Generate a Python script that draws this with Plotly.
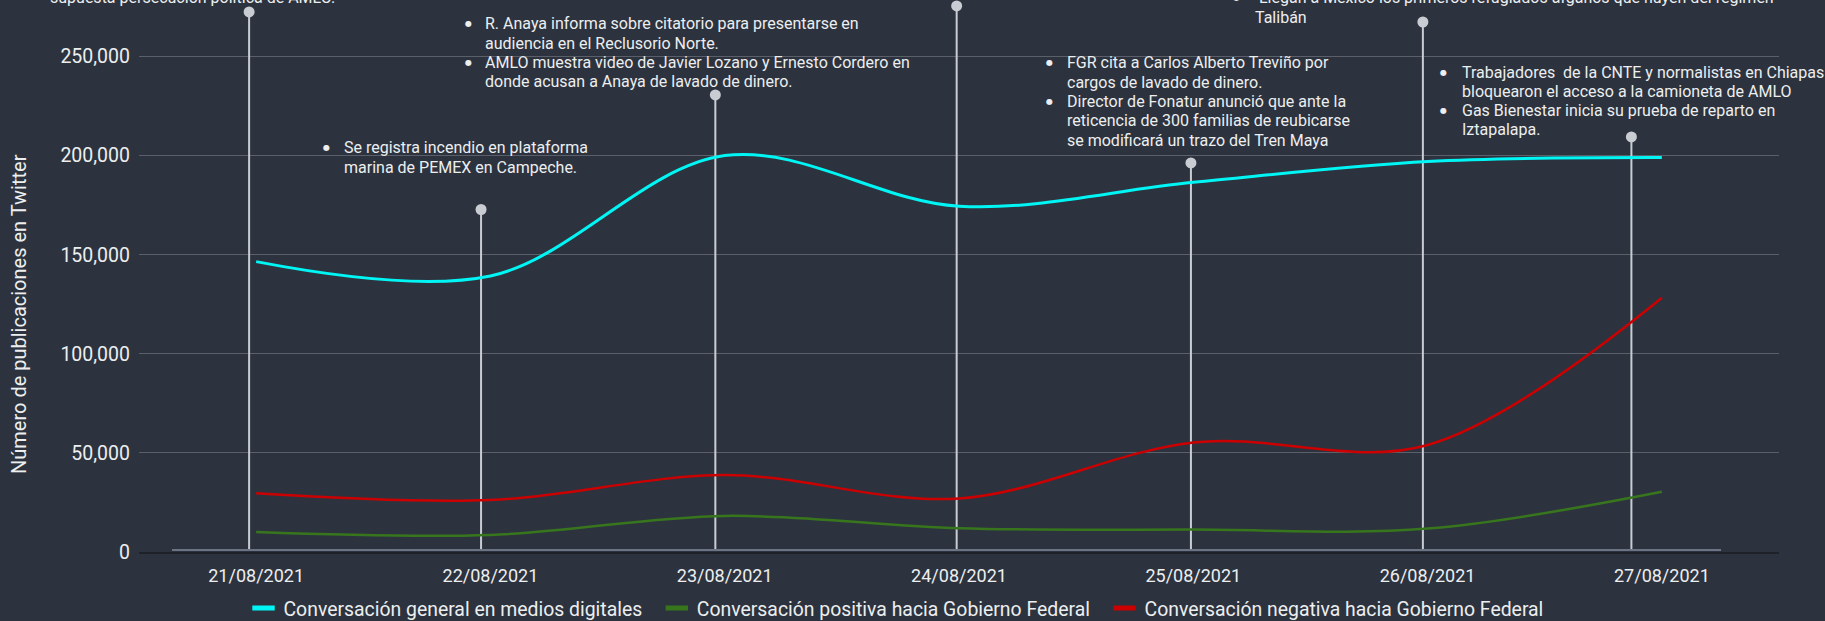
import plotly.graph_objects as go

# ---------------- data ----------------
fechas = ["21/08/2021", "22/08/2021", "23/08/2021", "24/08/2021",
          "25/08/2021", "26/08/2021", "27/08/2021"]
dias = list(range(len(fechas)))
general = [146500, 139300, 200000, 174500, 186500, 197000, 199000]
positiva = [10100, 8600, 18200, 12000, 11300, 11800, 30400]
negativa = [29600, 26200, 38800, 27000, 55300, 54000, 128300]
# event markers: position along the day axis and height of the marker
posicion_eventos = [-0.03, 0.96, 1.96, 2.99, 3.99, 4.98, 5.87]
altura_eventos = [272500, 172800, 230600, 275500, 196300, 267400, 209400]

series_nombres = ["Conversación general en medios digitales",
                  "Conversación positiva hacia Gobierno Federal",
                  "Conversación negativa hacia Gobierno Federal"]
y_ticks = [0, 50000, 100000, 150000, 200000, 250000]

# ---------------- style ----------------
BG = "#2c333e"
GRID = "#5a5f69"
TXT = "#eceef0"
CYAN = "#00f5f5"
GREEN = "#38761d"
RED = "#cc0000"
LOLLI = "#c9ccd3"
FONT = "Roboto"

W, H = 1825, 621
L, R_, T, B = 139, 1779, 0, 552
PX_PER_50K = 99.1


def px(x):
    return (x - L) / (R_ - L)


def py(y):
    return (B - y) / (B - T)


fig = go.Figure()

# lollipop event markers
lx, ly = [], []
for d, h in zip(posicion_eventos, altura_eventos):
    lx += [d, d, None]
    ly += [1500, h, None]
fig.add_trace(go.Scatter(x=lx, y=ly, mode="lines",
                         line=dict(color=LOLLI, width=2),
                         showlegend=False, hoverinfo="skip"))
fig.add_trace(go.Scatter(x=posicion_eventos, y=altura_eventos, mode="markers",
                         marker=dict(color=LOLLI, size=11),
                         showlegend=False, hoverinfo="skip"))

# series lines
for vals, col, w in [(general, CYAN, 3), (positiva, GREEN, 2.5), (negativa, RED, 2.5)]:
    fig.add_trace(go.Scatter(x=dias, y=vals, mode="lines",
                             line=dict(color=col, width=w, shape="spline", smoothing=1),
                             showlegend=False))

# legend entries (rectangular swatches)
for k, (name, col) in enumerate(zip(series_nombres, [CYAN, GREEN, RED])):
    label = name + ("\u00a0\u00a0" if k < 2 else "")
    fig.add_trace(go.Scatter(x=[None], y=[None], mode="markers", name=label,
                             marker=dict(symbol="line-ew", size=20,
                                         line=dict(color=col, width=7))))

# ---------------- event text blocks ----------------
LH = 19.3
bloques = [
    dict(tx=48, bx=None, y0=-3, bullets=[],
         lines=["supuesta persecución política de AMLO."]),
    dict(tx=342, bx=326, y0=148, bullets=[0],
         lines=["Se registra incendio en plataforma",
                "marina de PEMEX en Campeche."]),
    dict(tx=483, bx=468, y0=24, bullets=[0, 2],
         lines=["R. Anaya informa sobre citatorio para presentarse en",
                "audiencia en el Reclusorio Norte.",
                "AMLO muestra video de Javier Lozano y Ernesto Cordero en",
                "donde acusan a Anaya de lavado de dinero."]),
    dict(tx=1065, bx=1049, y0=63, bullets=[0, 2],
         lines=["FGR cita a Carlos Alberto Treviño por",
                "cargos de lavado de dinero.",
                "Director de Fonatur anunció que ante la",
                "reticencia de 300 familias de reubicarse",
                "se modificará un trazo del Tren Maya"]),
    dict(tx=1253, bx=1236, y0=-2, bullets=[0],
         lines=["\u00a0Llegan a México los primeros refugiados afganos que huyen del régimen",
                "Talibán"]),
    dict(tx=1460, bx=1443, y0=72, bullets=[0, 2],
         lines=["Trabajadores\u00a0 de la CNTE y normalistas en Chiapas",
                "bloquearon el acceso a la camioneta de AMLO",
                "Gas Bienestar inicia su prueba de reparto en",
                "Iztapalapa."]),
]

anns = []
for b in bloques:
    for i, line in enumerate(b["lines"]):
        yc = b["y0"] + i * LH
        anns.append(dict(x=px(b["tx"]), y=py(yc), xref="paper", yref="paper",
                         text=line, showarrow=False, xanchor="left", yanchor="middle",
                         font=dict(family=FONT, size=16, color=TXT)))
        if i in b["bullets"]:
            anns.append(dict(x=px(b["bx"]), y=py(yc), xref="paper", yref="paper",
                             text="●", showarrow=False, xanchor="center", yanchor="middle",
                             font=dict(family="DejaVu Sans", size=8, color=TXT)))

# y-axis title
anns.append(dict(x=px(19), y=py(314), xref="paper", yref="paper",
                 text="Número de publicaciones en Twitter", textangle=-90,
                 showarrow=False, xanchor="center", yanchor="middle",
                 font=dict(family=FONT, size=20, color=TXT)))

fig.update_layout(
    width=W, height=H, autosize=False,
    paper_bgcolor=BG, plot_bgcolor=BG,
    margin=dict(l=L, r=W - R_, t=T, b=H - B, pad=0, autoexpand=False),
    font=dict(family=FONT, color=TXT, size=18),
    annotations=anns,
    shapes=[dict(type="line", xref="paper", yref="paper",
                 x0=px(172), x1=px(1721), y0=py(B - 2), y1=py(B - 2),
                 line=dict(color="#6b7384", width=2))],
    legend=dict(orientation="h", x=px(896), xanchor="center",
                y=py(608.5), yanchor="middle", font=dict(family=FONT, size=19.4, color=TXT),
                bgcolor="rgba(0,0,0,0)", itemwidth=30, itemsizing="trace"),
    showlegend=True,
)

fig.update_xaxes(range=[-0.5, 6.5], tickvals=dias, ticktext=fechas,
                 showgrid=False, zeroline=False,
                 showline=True, linecolor="#1e2228", linewidth=2,
                 ticks="", ticklabelstandoff=6,
                 tickfont=dict(family=FONT, size=18, color=TXT))
fig.update_yaxes(range=[0, B / PX_PER_50K * 50000], tickvals=y_ticks, tickformat=",",
                 showgrid=True, gridcolor=GRID, gridwidth=1, zeroline=False,
                 showline=False, ticks="", ticklabelstandoff=8,
                 tickfont=dict(family=FONT, size=19.5, color=TXT))

fig.write_html(
    "out.html",
    config={"displayModeBar": False},
    post_script=("document.body.style.margin='0';"
                 "document.body.style.padding='0';"
                 "document.body.style.overflow='hidden';"
                 "document.body.style.background='" + BG + "';"),
)
